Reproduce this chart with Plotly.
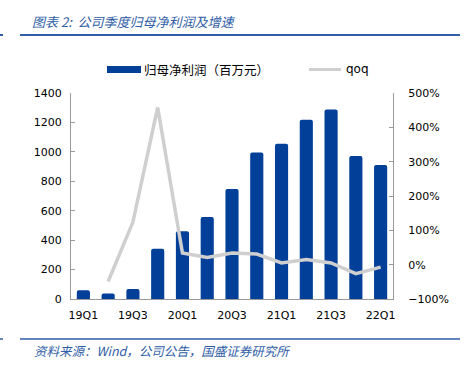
import plotly.graph_objects as go

quarters = ["19Q1","19Q2","19Q3","19Q4","20Q1","20Q2","20Q3","20Q4",
            "21Q1","21Q2","21Q3","21Q4","22Q1"]
net_profit = [60, 38, 68, 342, 460, 558, 748, 995, 1055, 1218, 1288, 972, 910]
qoq = [None, -49, 124, 458, 34, 21, 34, 31, 5, 15, 5, -26, -7]
tick_labels = ["19Q1","19Q3","20Q1","20Q3","21Q1","21Q3","22Q1"]

BLUE = "#023F98"
GREY_LINE = "#CFCFCF"
AX = "#9A9A9A"
FONT = "DejaVu Sans"
CJK = "Noto Sans CJK SC"

fig = go.Figure()
fig.add_trace(go.Bar(x=quarters, y=net_profit, marker_color=BLUE,
                     marker_line_width=0, width=0.53, yaxis="y",
                     name="归母净利润（百万元）", showlegend=False))
fig.add_trace(go.Scatter(x=quarters, y=qoq, mode="lines", yaxis="y2",
                         line=dict(color=GREY_LINE, width=3.5),
                         name="qoq", showlegend=False, connectgaps=False))

L, R, T, B = 71, 393, 93, 299
W, H = R - L, B - T
def px(x): return (x - L) / W
def py(y): return (B - y) / H

fig.update_layout(
    width=464, height=369,
    margin=dict(l=L, r=464 - R, t=T, b=369 - B),
    paper_bgcolor="white", plot_bgcolor="white",
    barcornerradius=2,
    font=dict(family=FONT, size=11, color="#000000"),
    xaxis=dict(type="category", tickmode="array", tickvals=tick_labels,
               ticktext=tick_labels, showline=True, linecolor=AX, linewidth=1,
               ticks="", showgrid=False, range=[-0.5, 12.5],
               ticklabelstandoff=6,
               tickfont=dict(family=FONT, size=11)),
    yaxis=dict(range=[0, 1400], dtick=200, showline=True, linecolor=AX,
               linewidth=1, ticks="inside", ticklen=4, tickcolor=AX,
               showgrid=False, zeroline=False, ticklabelstandoff=6,
               tickfont=dict(family=FONT, size=11)),
    yaxis2=dict(range=[-100, 500], dtick=100, overlaying="y", side="right",
                showline=True, linecolor=AX, linewidth=1, ticks="inside",
                ticklen=4, tickcolor=AX, showgrid=False, zeroline=False,
                ticksuffix="%", ticklabelstandoff=12,
                tickfont=dict(family=FONT, size=11)),
)

shapes = [
    dict(type="line", xref="paper", yref="paper", x0=px(20), x1=px(460),
         y0=py(35), y1=py(35), line=dict(color="#2F5DA6", width=2)),
    dict(type="line", xref="paper", yref="paper", x0=px(0), x1=px(3),
         y0=py(35), y1=py(35), line=dict(color="#2F5DA6", width=2)),
    dict(type="line", xref="paper", yref="paper", x0=px(20), x1=px(460),
         y0=py(339), y1=py(339), line=dict(color="#2F5DA6", width=1.5)),
    dict(type="line", xref="paper", yref="paper", x0=px(0), x1=px(3),
         y0=py(339), y1=py(339), line=dict(color="#2F5DA6", width=1.5)),
    # legend swatches
    dict(type="rect", xref="paper", yref="paper", x0=px(107), x1=px(141),
         y0=py(73), y1=py(66), fillcolor=BLUE, line_width=0),
    dict(type="line", xref="paper", yref="paper", x0=px(309), x1=px(341),
         y0=py(69.5), y1=py(69.5), line=dict(color=GREY_LINE, width=3)),
]
fig.update_layout(shapes=shapes)

annots = [
    dict(text="<i>图表 2:  公司季度归母净利润及增速</i>", x=px(30), y=py(22),
         font=dict(family=CJK, size=13, color="#2F5DA6")),
    dict(text="<i>资料来源：Wind，公司公告，国盛证券研究所</i>", x=px(32), y=py(350),
         font=dict(family=CJK, size=12.5, color="#2F5DA6")),
    dict(text="归母净利润（百万元）", x=px(142), y=py(69),
         font=dict(family=CJK, size=12.5, color="#000000")),
    dict(text="qoq", x=px(344), y=py(69),
         font=dict(family=FONT, size=12, color="#000000")),
]
for a in annots:
    fig.add_annotation(xref="paper", yref="paper", xanchor="left",
                       yanchor="middle", showarrow=False, **a)

fig.write_html("out.html", config={"displayModeBar": False},
               post_script="document.body.style.margin='0';document.body.style.overflow='hidden';")
